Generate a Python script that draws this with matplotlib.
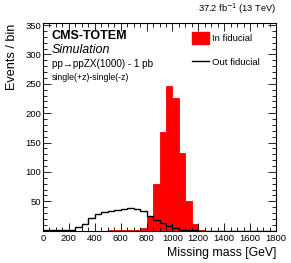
import numpy as np
import matplotlib
matplotlib.use("Agg")
import matplotlib.pyplot as plt
from matplotlib.ticker import MultipleLocator
from matplotlib.patches import Patch
from matplotlib.lines import Line2D

plt.rcParams['font.family'] = ['Liberation Sans', 'DejaVu Sans']

bin_edges = np.arange(0, 1850, 50)
# values per 50 GeV bin, 0..1800
in_fid = [0, 0, 0, 0, 0, 0, 0, 0, 0, 0, 0.5, 0.5, 0.5, 0.5, 0.5, 5, 25, 80,
          168, 247, 226, 133, 50, 12, 1, 0, 0, 0, 0, 0, 0, 0, 0, 0, 0, 0]
out_fid = [0.5, 0.5, 0.5, 0.5, 2, 6, 12, 21, 28, 32, 34, 36, 37, 39, 37, 34, 25, 19,
           13, 8, 5, 2, 1, 0.5, 0, 0, 0, 0, 0, 0, 0, 0, 0, 0, 0, 0]

W, H = 291, 263
fig = plt.figure(figsize=(W/100, H/100), dpi=100)
ax = fig.add_axes([43/W, 1-230.7/H, (276-43)/W, (230.7-23.3)/H])

ax.hist(bin_edges[:-1], bins=bin_edges, weights=in_fid, histtype='stepfilled',
        color='#ff0000', edgecolor='#ff0000', linewidth=0.6)
ax.hist(bin_edges[:-1], bins=bin_edges, weights=out_fid, histtype='step',
        color='black', linewidth=1.0)

ax.set_xlim(0, 1800)
ax.set_ylim(0, 353)
ax.xaxis.set_major_locator(MultipleLocator(200))
ax.xaxis.set_minor_locator(MultipleLocator(50))
ax.yaxis.set_major_locator(MultipleLocator(50))
ax.yaxis.set_minor_locator(MultipleLocator(10))
ax.set_yticks([50, 100, 150, 200, 250, 300, 350])
ax.tick_params(which='both', direction='in', top=True, right=True, labelsize=6.8,
               width=0.6)
ax.tick_params(axis='x', pad=2.5)
ax.tick_params(axis='y', pad=1.5)
ax.tick_params(which='major', length=6)
ax.tick_params(which='minor', length=3)
for s in ax.spines.values():
    s.set_linewidth(0.8)

ax.set_xlabel('Missing mass [GeV]', fontsize=8.8, loc='right', labelpad=3)
ax.set_ylabel('Events / bin', fontsize=9.1, loc='top', labelpad=5)

fig.text(52/W, 1-36/H, 'CMS-TOTEM', fontsize=9, fontweight='bold', va='center')
fig.text(52/W, 1-50/H, 'Simulation', fontsize=9, style='italic', va='center')
fig.text(52/W, 1-64/H, 'pp→ppZX(1000) - 1 pb', fontsize=7.1, va='center')
fig.text(52/W, 1-77/H, 'single(+z)-single(-z)', fontsize=6.3, va='center')
fig.text(276/W, 1-9/H, '37.2 fb$^{-1}$ (13 TeV)', fontsize=6.7, ha='right', va='center')

handles = [Patch(facecolor='#ff0000', edgecolor='#ff0000'),
           Line2D([0], [0], color='black', linewidth=1.0)]
leg = ax.legend(handles, ['In fiducial', 'Out fiducial'], loc='upper left',
                bbox_to_anchor=(192/W, 1-32/H), bbox_transform=fig.transFigure,
                frameon=False, fontsize=6.8, handlelength=1.8, handleheight=1.6,
                handletextpad=0.35, labelspacing=1.25, borderaxespad=0, borderpad=0)

fig.savefig('out.png', dpi=100)
